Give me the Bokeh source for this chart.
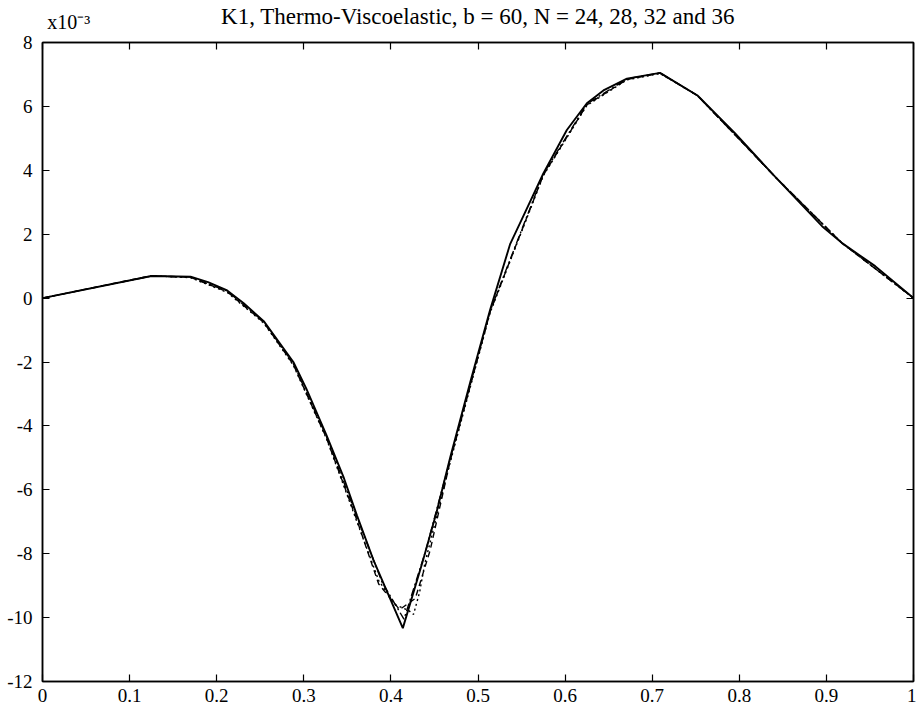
from bokeh.plotting import figure
from bokeh.models import LinearAxis, Range1d, FixedTicker
from bokeh.embed import file_html
from bokeh.resources import INLINE

title_text = "K1, Thermo-Viscoelastic, b = 60, N = 24, 28, 32 and 36"
scale_text = "x10\u207b\u00b3"
x_ticks = [0, 0.1, 0.2, 0.3, 0.4, 0.5, 0.6, 0.7, 0.8, 0.9, 1.0]
x_tick_labels = ["0", "0.1", "0.2", "0.3", "0.4", "0.5", "0.6", "0.7", "0.8", "0.9", "1"]
y_ticks = [-12, -10, -8, -6, -4, -2, 0, 2, 4, 6, 8]
y_tick_labels = ["-12", "-10", "-8", "-6", "-4", "-2", "0", "2", "4", "6", "8"]

# N = 36 (solid)
x_n36 = [0, 0.125, 0.17, 0.19, 0.212, 0.231, 0.254, 0.288, 0.303, 0.326, 0.346, 0.361,
         0.38, 0.4137, 0.437, 0.4527, 0.468, 0.491, 0.514, 0.537, 0.55, 0.575, 0.602,
         0.625, 0.644, 0.671, 0.709, 0.752, 0.795, 0.841, 0.895, 0.918, 0.956, 1.0]
y_n36 = [0, 0.69, 0.67, 0.5, 0.24, -0.16, -0.72, -2.0, -2.84, -4.29, -5.63, -6.8,
         -8.2, -10.33, -8.2, -6.67, -5.0, -2.64, -0.36, 1.7, 2.45, 3.9, 5.26,
         6.1, 6.5, 6.87, 7.05, 6.34, 5.16, 3.8, 2.25, 1.72, 1.0, 0]

# N = 32 (dash-dot)
x_n32 = [0, 0.125, 0.17, 0.212, 0.254, 0.288, 0.326, 0.361, 0.39, 0.415, 0.44, 0.468,
         0.514, 0.575, 0.625, 0.671, 0.709, 0.752, 0.841, 0.918, 1.0]
y_n32 = [0, 0.69, 0.66, 0.22, -0.74, -2.05, -4.33, -6.85, -8.9, -10.05, -7.9, -5.05,
         -0.4, 3.88, 6.08, 6.86, 7.05, 6.34, 3.8, 1.72, 0]

# N = 28 (dashed)
x_n28 = [0, 0.125, 0.17, 0.212, 0.254, 0.288, 0.326, 0.361, 0.386, 0.41, 0.428, 0.445,
         0.468, 0.514, 0.575, 0.625, 0.671, 0.709, 0.752, 0.841, 0.918, 1.0]
y_n28 = [0, 0.7, 0.65, 0.2, -0.76, -2.08, -4.38, -6.95, -8.95, -9.75, -9.4, -7.9,
         -5.1, -0.42, 3.85, 6.05, 6.84, 7.04, 6.34, 3.8, 1.72, 0]

# N = 24 (dotted)
x_n24 = [0, 0.125, 0.17, 0.212, 0.254, 0.288, 0.326, 0.361, 0.386, 0.405, 0.42, 0.426,
         0.433, 0.439, 0.468, 0.514, 0.575, 0.625, 0.671, 0.709, 0.752, 0.841, 0.918, 1.0]
y_n24 = [0, 0.7, 0.64, 0.18, -0.78, -2.1, -4.4, -7.0, -8.84, -9.6, -9.77, -9.9,
         -9.2, -8.3, -5.15, -0.45, 3.83, 6.03, 6.83, 7.03, 6.34, 3.8, 1.72, 0]

FONT = "Liberation Serif"

p = figure(width=916, height=712, output_backend="svg", toolbar_location=None,
           x_range=Range1d(0, 1), y_range=Range1d(-12, 8),
           x_axis_location=None, y_axis_location=None,
           min_border_left=42, min_border_right=3, min_border_top=41, min_border_bottom=31)
p.title = None
p.background_fill_color = "white"
p.border_fill_color = "white"
p.grid.visible = False
p.outline_line_color = "black"
p.outline_line_width = 1.5

def make_axis(ticks, labels):
    ax = LinearAxis(ticker=FixedTicker(ticks=ticks))
    ax.axis_line_color = "black"
    ax.axis_line_width = 1.5
    ax.major_tick_in = 7
    ax.major_tick_out = 0
    ax.major_tick_line_color = "black"
    ax.major_tick_line_width = 1.2
    ax.minor_tick_line_color = None
    ax.major_label_text_font = FONT
    ax.major_label_text_font_size = "19px"
    ax.major_label_text_color = "black"
    if labels is None:
        ax.major_label_overrides = {t: "" for t in ticks}
        ax.major_label_text_color = None
        ax.major_label_standoff = 0
    else:
        ax.major_label_overrides = dict(zip(ticks, labels))
    return ax

xb = make_axis(x_ticks, x_tick_labels)
xb.major_label_standoff = 7
yl = make_axis(y_ticks, y_tick_labels)
yl.major_label_standoff = 10
xt = make_axis(x_ticks, None)
yr = make_axis(y_ticks, None)
p.add_layout(xb, "below")
p.add_layout(yl, "left")
p.add_layout(xt, "above")
p.add_layout(yr, "right")

# header row: scale factor (as a tick label) and the title (as axis label, same row)
scale_pos = 0.03
hdr = LinearAxis(ticker=FixedTicker(ticks=[scale_pos]))
hdr.major_label_overrides = {scale_pos: scale_text}
hdr.axis_line_color = None
hdr.major_tick_line_color = None
hdr.minor_tick_line_color = None
hdr.major_tick_in = 0
hdr.major_tick_out = 0
hdr.major_label_standoff = 10
hdr.major_label_text_font = FONT
hdr.major_label_text_font_size = "20px"
hdr.major_label_text_color = "black"
hdr.axis_label = title_text
hdr.axis_label_text_font = FONT
hdr.axis_label_text_font_size = "23px"
hdr.axis_label_text_font_style = "normal"
hdr.axis_label_text_color = "black"
hdr.axis_label_standoff = -21
p.add_layout(hdr, "above")

p.line(x_n24, y_n24, line_color="black", line_width=1.4, line_dash="2 3")
p.line(x_n28, y_n28, line_color="black", line_width=1.4, line_dash="6 4")
p.line(x_n32, y_n32, line_color="black", line_width=1.4, line_dash="8 3 2 3")
p.line(x_n36, y_n36, line_color="black", line_width=1.9)

open("out.html", "w").write(file_html(p, INLINE))
